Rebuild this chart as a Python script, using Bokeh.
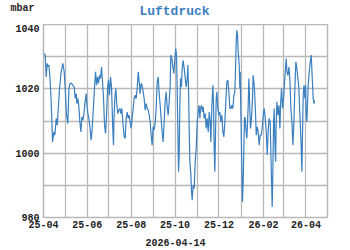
import datetime as dt
from bokeh.plotting import figure
from bokeh.layouts import column, row
from bokeh.models import Range1d, FixedTicker, DatetimeTickFormatter
from bokeh.core.properties import value
from bokeh.embed import file_html
from bokeh.resources import INLINE

START = dt.datetime(2025, 4, 1)
TITLE = "Luftdruck"
UNIT = "mbar"
DATE_TEXT = "2026-04-14"

# days since 2025-04-01, pressure in mbar
day_offset = [
    1.0, 2.4, 3.8, 5.1, 6.5, 7.5, 8.9, 10.7, 12.6, 14.4, 15.8, 17.7, 19.1, 20.4, 22.3, 24.6, 26.9, 28.8,
    30.2, 32.0, 33.9, 35.3, 37.1, 39.0, 40.8, 42.7, 44.1, 45.5, 46.4, 47.8, 49.2, 50.6, 52.0, 53.4, 54.8,
    56.1, 57.5, 59.4, 60.3, 61.7, 63.1, 64.5, 66.3, 67.7, 69.6, 71.0, 72.4, 73.8, 75.2, 76.5, 77.9, 79.3,
    80.7, 82.1, 83.5, 84.9, 86.3, 87.7, 89.1, 90.4, 91.8, 93.2, 94.6, 96.5, 97.4,
    97.9, 99.2, 100.6, 102.0, 103.4, 104.8, 106.2, 107.6, 108.9, 110.3, 112.2, 113.6, 115.0, 116.4, 117.8,
    119.1, 120.5, 121.9, 123.3, 124.7, 126.1, 127.5, 128.9, 130.3, 131.7, 133.1, 134.4, 135.8, 137.2,
    138.6, 140.0, 141.4, 142.8, 144.2, 145.6, 147.0, 148.4, 149.7, 151.1, 152.5, 153.9, 155.3, 156.7,
    158.1, 159.5, 160.9, 162.3, 163.6, 165.0, 166.4, 167.8, 169.2, 170.6, 172.0, 173.4, 174.8, 176.2,
    177.1, 178.5, 179.9, 181.3, 182.7, 184.0, 185.0, 185.9, 186.8, 187.8, 188.7, 189.6, 190.5, 191.9,
    192.9, 194.2,
    195.7, 197.1, 198.5, 199.9, 200.8, 201.7, 202.6, 203.6, 205.0, 205.9, 206.8, 208.2, 209.6, 211.0,
    212.4, 213.8, 215.2, 216.5, 217.5, 218.4, 219.8, 221.2, 222.1, 223.5, 224.9, 226.3, 227.7, 229.1,
    230.5, 231.8, 232.8, 234.2, 235.6, 236.5, 237.4, 238.3, 239.3, 240.2, 241.1, 242.5, 243.9, 245.3,
    246.7, 248.1, 249.5, 250.9, 252.2, 253.6, 255.0, 256.4, 257.8, 259.2, 260.6, 262.0, 263.4, 264.8,
    266.1, 267.1, 268.0, 268.9, 269.9, 270.8, 272.2, 273.1, 273.6, 274.0, 275.0, 275.9, 276.8, 277.7,
    278.7, 279.6, 280.5, 281.4, 282.8, 283.8, 284.7, 285.6, 286.5, 287.9, 288.9, 289.8, 290.7, 291.6,
    293.1, 294.5, 295.9, 297.3, 298.6, 300.0, 301.4, 302.8, 304.2, 305.6, 307.0, 308.4, 309.8, 311.2,
    312.6, 313.9, 315.3, 316.3, 317.2, 318.1, 319.0, 320.0, 320.9, 321.8, 322.8, 323.7, 324.6, 326.0,
    327.4, 328.8, 329.7, 331.1, 332.5, 333.9, 335.3, 336.2, 337.6, 338.5, 339.9, 341.3, 342.7, 344.1,
    345.5, 346.9, 348.3, 349.6, 351.0, 352.4, 353.8, 355.2, 356.6, 358.0, 359.4, 360.3, 361.2, 362.2,
    363.6, 364.5, 365.4, 366.3, 367.3, 368.2, 369.6, 371.0, 372.4, 373.8, 375.1, 376.1, 377.0,
]
mbar = [
    1031.0, 1030.5, 1023.7, 1027.9, 1026.8, 1027.4, 1023.7, 1016.0, 1003.5, 1006.6, 1005.6, 1010.8, 1008.7,
    1013.4, 1020.1, 1025.3, 1027.9, 1025.3, 1020.1, 1011.8, 1009.2, 1020.1, 1021.7, 1021.7, 1021.1, 1020.6,
    1017.0, 1018.5, 1015.4, 1017.0, 1014.4, 1009.7, 1006.6, 1011.3, 1010.3, 1011.8, 1015.4, 1018.5, 1014.9,
    1012.3, 1010.8, 1008.2, 1004.0, 1007.7, 1014.9, 1020.6, 1025.3, 1021.1, 1023.7, 1021.7, 1024.2, 1023.2,
    1026.8, 1022.2, 1017.0, 1008.7, 1006.1, 1011.8, 1020.1, 1022.7, 1018.0, 1023.7, 1020.6, 1006.6, 1002.5,
    1009.7, 1017.0, 1020.1, 1014.9, 1012.3, 1013.4, 1013.9, 1012.3, 1013.9, 1009.7, 1005.1, 1004.6, 1010.8,
    1012.8, 1010.8, 1011.8, 1009.7, 1007.7, 1010.8, 1013.9, 1017.0, 1018.0, 1017.0, 1020.1, 1025.3, 1022.2,
    1018.5, 1021.7, 1021.1, 1019.1, 1017.0, 1013.4, 1015.4, 1013.9, 1013.4, 1011.8, 1009.7, 1005.6, 1002.5,
    1008.2, 1007.2, 1009.2, 1013.9, 1022.2, 1023.7, 1018.5, 1014.9, 1010.8, 1006.6, 1003.5, 1009.7, 1016.0,
    1019.1, 1014.4, 1011.8, 1016.0, 1021.1, 1030.5, 1029.4, 1026.8, 1024.8, 1029.4, 1032.5, 1030.5, 1020.1,
    1008.7, 994.2, 999.4, 1013.9, 1023.2, 1020.6, 1026.3, 1028.9,
    1026.3, 1023.2, 1020.6, 1023.2, 1027.4, 1020.1, 1007.7, 997.3, 993.2, 988.0, 985.4, 990.1, 989.0, 997.3,
    1001.5, 1009.7, 1012.8, 1014.9, 1010.8, 1013.9, 1014.9, 1012.8, 1014.4, 1010.8, 1012.3, 1007.7, 1010.8,
    1006.6, 1012.8, 1009.7, 1003.5, 1014.9, 1021.1, 1014.9, 1001.5, 994.2, 1006.6, 1017.0, 1019.1, 1013.9,
    1011.8, 1012.8, 1009.7, 1011.8, 1006.6, 1005.1, 1009.7, 1016.0, 1022.2, 1022.7, 1019.1, 1013.9, 1013.9,
    1014.9, 1013.9, 1018.0, 1019.1, 1026.3, 1034.6, 1038.2, 1036.7, 1031.5, 1027.4, 1020.1, 1025.3, 1019.1,
    1006.6, 994.2, 984.9, 991.1, 1001.5, 1011.2, 1010.8, 1007.7, 1004.6, 1009.7, 1014.9, 1023.2, 1017.0,
    1007.7, 1009.7, 1012.8, 1017.0, 1024.2,
    1021.1, 1014.9, 1005.6, 1008.2, 1006.6, 1002.5, 1005.6, 1005.6, 1007.7, 1011.8, 1013.9, 1010.8, 1006.6,
    999.4, 1007.7, 1010.8, 1009.7, 999.4, 991.1, 983.3, 994.2, 1009.7, 1013.9, 1003.5, 997.3, 1009.7, 1016.0,
    1011.8, 1014.9, 1007.7, 1014.9, 1020.1, 1013.9, 1017.0, 1022.2, 1025.3, 1029.4, 1025.3, 1024.2, 1026.8,
    1022.7, 1013.9, 1009.7, 1002.5, 1009.7, 1020.1, 1028.4, 1026.3, 1023.2, 1020.1, 1011.8, 1004.6, 994.2,
    1006.6, 1018.0, 1021.1, 1017.0, 1021.1, 1011.8, 1009.7, 1016.0, 1021.1, 1025.3, 1028.4, 1030.5, 1023.2,
    1017.0, 1015.4, 1016.5,
]

grid_months = [(2025, m) for m in range(4, 13)] + [(2026, m) for m in range(1, 6)]
label_months = [(2025, 4), (2025, 6), (2025, 8), (2025, 10), (2025, 12), (2026, 2), (2026, 4)]
y_labels = [980, 1000, 1020, 1040]
y_grid = [980, 990, 1000, 1010, 1020, 1030, 1040]


def ms(d):
    return (d - dt.datetime(1970, 1, 1)).total_seconds() * 1000.0


x = [START + dt.timedelta(days=d) for d in day_offset]

FONT = "Liberation Mono"
BLUE = "#3a7fc0"
GRAY = "#b8b8b8"
DARK = "#222222"
W = 350
LEFT, RIGHT = 43, 23


def text_strip(height):
    # full-width strip whose x range equals canvas pixels
    f = figure(width=W, height=height, output_backend="svg", toolbar_location=None,
               x_range=Range1d(0, W), y_range=Range1d(height, 0),
               x_axis_location=None, y_axis_location=None, min_border=0)
    f.grid.visible = False
    f.outline_line_color = None
    f.background_fill_color = "white"
    f.border_fill_color = "white"
    return f


# header: title and unit
head = text_strip(24)
head.text(x=[174], y=[10.5], text=[TITLE], text_font=value(FONT), text_font_size="13px",
          text_font_style="bold", text_color=BLUE, text_align="center", text_baseline="alphabetic")
head.text(x=[10], y=[7.5], text=[UNIT], text_font=value(FONT), text_font_size="10px",
          text_font_style="bold", text_color=DARK, text_align="left", text_baseline="alphabetic")

# main chart
p = figure(width=W, height=210, output_backend="svg", toolbar_location=None,
           x_axis_type="datetime",
           x_range=Range1d(ms(dt.datetime(2025, 4, 1)), ms(dt.datetime(2026, 5, 1))),
           y_range=Range1d(980, 1040),
           min_border_left=LEFT, min_border_right=RIGHT, min_border_top=0, min_border_bottom=17)

p.line(x, mbar, line_color=BLUE, line_width=1.2)

p.xaxis.ticker = FixedTicker(ticks=[ms(dt.datetime(y, m, 1)) for y, m in label_months])
fmt = "%y-%m"
p.xaxis.formatter = DatetimeTickFormatter(microseconds=fmt, milliseconds=fmt, seconds=fmt, minsec=fmt,
                                          minutes=fmt, hourmin=fmt, hours=fmt, days=fmt, months=fmt, years=fmt)
p.xgrid.ticker = FixedTicker(ticks=[ms(dt.datetime(y, m, 1)) for y, m in grid_months])
p.yaxis.ticker = FixedTicker(ticks=y_labels)
p.ygrid.ticker = FixedTicker(ticks=y_grid)

for ax in (p.xaxis, p.yaxis):
    ax.axis_line_color = None
    ax.major_tick_line_color = None
    ax.minor_tick_line_color = None
    ax.major_tick_out = 0
    ax.major_tick_in = 0
    ax.major_label_text_font = FONT
    ax.major_label_text_font_size = "10px"
    ax.major_label_text_font_style = "bold"
    ax.major_label_text_color = DARK
p.xaxis.major_label_standoff = 3
p.yaxis.major_label_standoff = 4

for g in (p.xgrid, p.ygrid):
    g.grid_line_color = GRAY
    g.grid_line_width = 1.3
p.outline_line_color = GRAY
p.outline_line_width = 1.5
p.background_fill_color = "white"
p.border_fill_color = "white"

# footer: date
foot = text_strip(16)
foot.text(x=[175], y=[7.5], text=[DATE_TEXT], text_font=value(FONT), text_font_size="10px",
          text_font_style="bold", text_color=DARK, text_align="center", text_baseline="alphabetic")

# header/footer wrapped in rows so their frames are not aligned with the chart's frame
layout = column(row(head), p, row(foot), spacing=0)
open("out.html", "w").write(file_html(layout, INLINE))
